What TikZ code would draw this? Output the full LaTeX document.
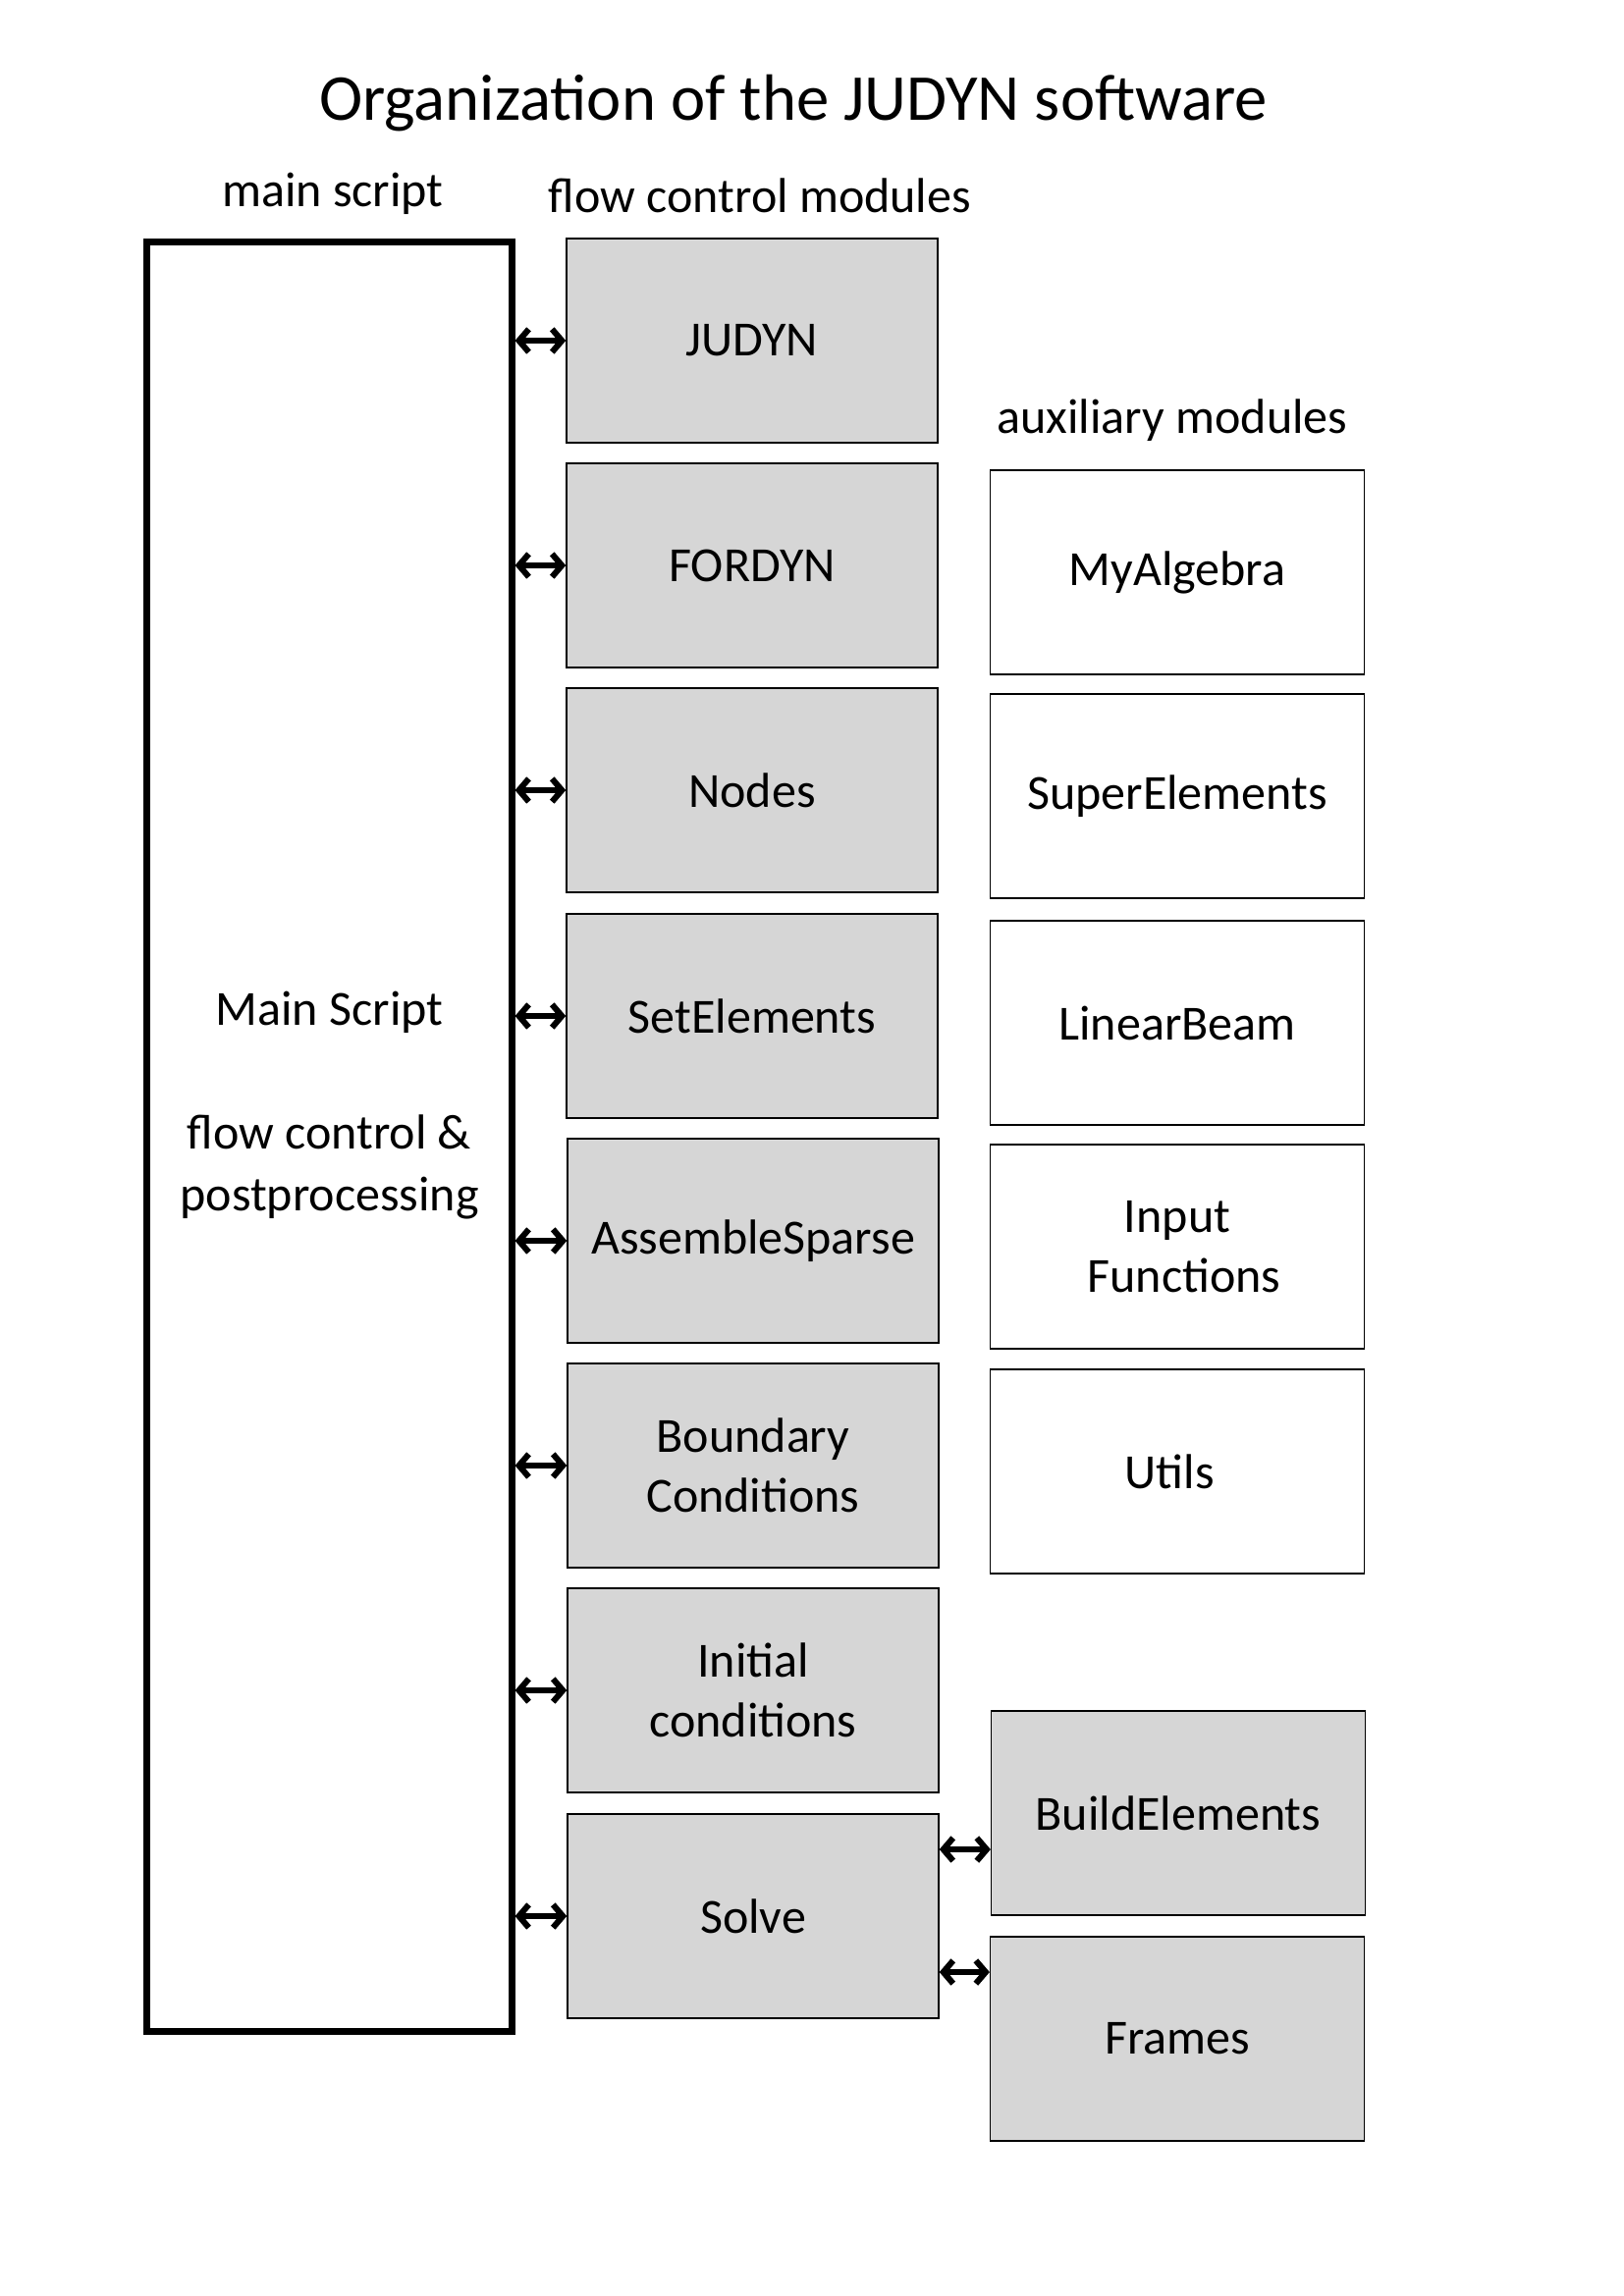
\documentclass[tikz,border=0pt]{standalone}
\usepackage{fontspec}
\setmainfont{Carlito}
\usetikzlibrary{arrows.meta}
\begin{document}
\begin{tikzpicture}[x=0.35975pt,y=-0.35975pt,
  flowbox/.style={draw=black,line width=0.5pt,fill=black!16,minimum width=136pt,minimum height=74.8pt,inner sep=0pt,align=center,font=\fontsize{18}{22}\selectfont},
  auxbox/.style={draw=black,line width=0.5pt,fill=white,minimum width=137pt,minimum height=74.8pt,inner sep=0pt,align=center,font=\fontsize{18}{22}\selectfont},
  hdr/.style={font=\fontsize{18}{22}\selectfont,inner sep=0pt},
  arr/.style={line width=2.2pt,{Straight Barb[length=3.6pt,width=8.4pt]}-{Straight Barb[length=3.6pt,width=8.4pt]}}]
\useasboundingbox (0,0) rectangle (1654,2339);
\node[font=\fontsize{24}{29}\selectfont,inner sep=0pt] (title) at (808,105) {Organization of the JUDYN software};
\node[hdr] (lmain) at (339,197) {main script};
\node[hdr] (lflow) at (774,199) {flow control modules};
\node[hdr] (laux) at (1194,428) {auxiliary modules};
\node[draw=black,line width=2.5pt,minimum width=133.5pt,minimum height=656pt,inner sep=0pt] (main) at (335.5,1158) {};
\node[font=\fontsize{18}{22.6}\selectfont,align=center,inner sep=0pt] (mtext) at (335.5,1126) {Main Script\\[22.6pt]flow control \&\\postprocessing};
\node[flowbox] (f1) at (766,347) {JUDYN};
\node[flowbox] (f2) at (766,576) {FORDYN};
\node[flowbox] (f3) at (766,805) {Nodes};
\node[flowbox] (f4) at (766,1035) {SetElements};
\node[flowbox] (f5) at (767,1264) {AssembleSparse};
\node[flowbox] (f6) at (767,1493) {Boundary\\Conditions};
\node[flowbox] (f7) at (767,1722) {Initial\\conditions};
\node[flowbox] (f8) at (767,1952) {Solve};
\node[auxbox] (a1) at (1199,583) {MyAlgebra};
\node[auxbox] (a2) at (1199,811) {SuperElements};
\node[auxbox] (a3) at (1199,1042) {LinearBeam};
\node[auxbox] (a4) at (1199,1270) {Input\\\hspace*{5pt}Functions};
\node[auxbox] (a5) at (1199,1499) {\hspace*{-5.5pt}Utils};
\node[flowbox,minimum width=137pt] (b1) at (1200,1847) {BuildElements};
\node[flowbox,minimum width=137pt] (b2) at (1199,2077) {Frames};
\foreach \i in {1,...,8} {\draw[arr] (main.east |- f\i.west) -- (f\i.west);}
\coordinate (s1) at (0,1884);
\coordinate (s2) at (0,2009);
\draw[arr] (f8.east |- s1) -- (b1.west |- s1);
\draw[arr] (f8.east |- s2) -- (b2.west |- s2);
\end{tikzpicture}
\end{document}
